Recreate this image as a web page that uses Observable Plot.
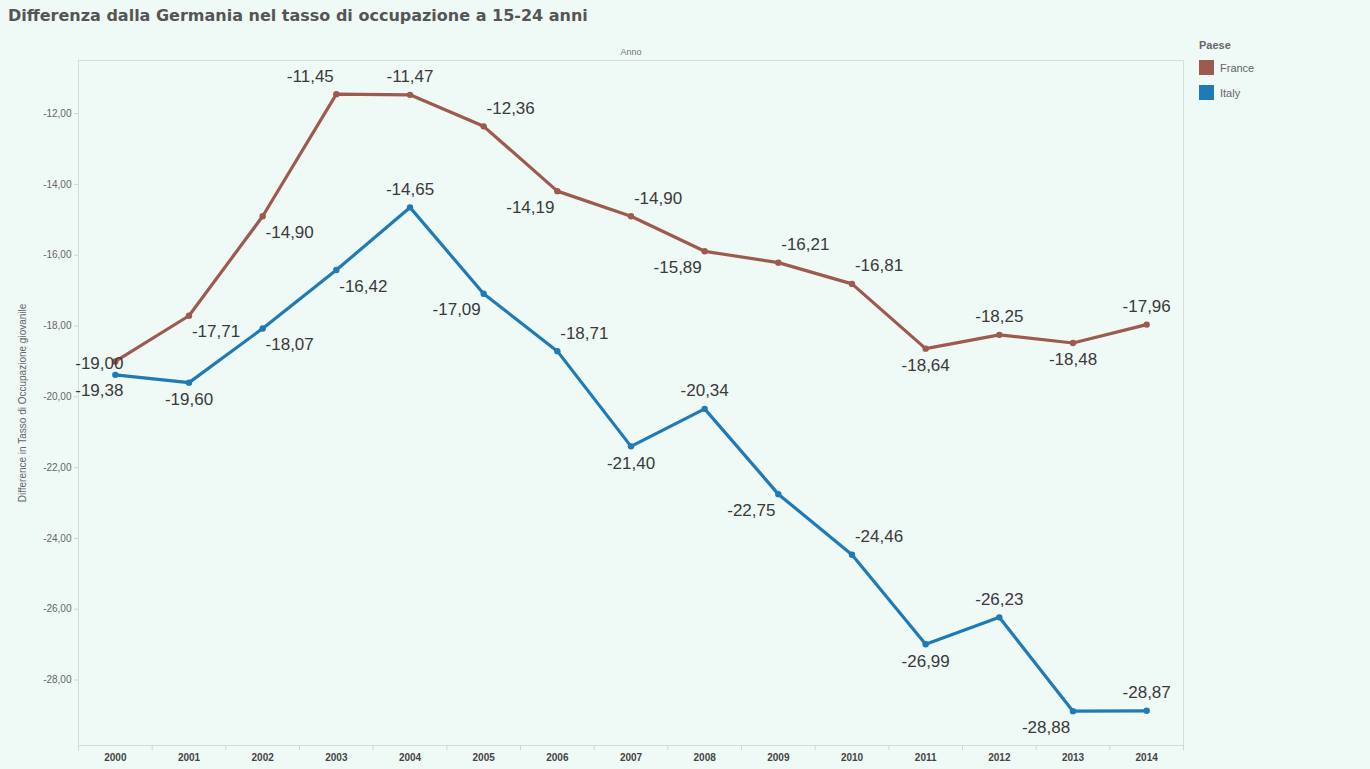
<!DOCTYPE html>
<html>
<head>
<meta charset="utf-8">
<script src="https://cdn.jsdelivr.net/npm/d3@7"></script>
<script src="https://cdn.jsdelivr.net/npm/@observablehq/plot@0.6"></script>
<style>
  html, body { margin: 0; padding: 0; background: #eff9f6; }
  #wrap { position: relative; width: 1370px; height: 769px; overflow: hidden; }
  #title { position: absolute; left: 8px; top: 6px; font: bold 16px "DejaVu Sans", sans-serif; color: #555; white-space: nowrap; }
  #chart { position: absolute; left: 0; top: 0; }
  #legend { position: absolute; left: 1199px; top: 39px; font: 11px "Liberation Sans", Arial, sans-serif; color: #666; }
  #legend .head { font-weight: bold; color: #666; margin-bottom: 4px; }
  #legend .row { display: flex; align-items: center; height: 25px; }
  #legend .sw { width: 15px; height: 15px; margin-right: 6px; }
</style>
</head>
<body>
<div id="wrap">
  <div id="chart"></div>
  <div id="title">Differenza dalla Germania nel tasso di occupazione a 15-24 anni</div>
  <div id="legend"></div>
</div>
<script>
// Years on the x axis
const years = [2000, 2001, 2002, 2003, 2004, 2005, 2006, 2007, 2008, 2009, 2010, 2011, 2012, 2013, 2014];
// Difference from Germany in the 15-24 employment rate (percentage points)
const france = [-19.00, -17.71, -14.90, -11.45, -11.47, -12.36, -14.19, -14.90, -15.89, -16.21, -16.81, -18.64, -18.25, -18.48, -17.96];
const italy  = [-19.38, -19.60, -18.07, -16.42, -14.65, -17.09, -18.71, -21.40, -20.34, -22.75, -24.46, -26.99, -26.23, -28.88, -28.87];
const countries = ["France", "Italy"];
const colors = ["#9d5a4e", "#1f7ab5"];
const yTicks = [-12, -14, -16, -18, -20, -22, -24, -26, -28];

// Where each value label sits around its point
const franceLabelPos = ["L", "SE", "SE", "NW", "N", "NE", "SW", "NE", "SW", "NE", "NE", "S", "N", "S", "N"];
const italyLabelPos  = ["LS", "S", "SE", "SE", "N", "SW", "NE", "S", "N", "SW", "NE", "S", "N", "SW", "N"];
const offsets = {
  N: [0, -18], S: [0, 17], NE: [27, -18], SE: [27, 16], NW: [-26, -18], SW: [-27, 16],
  L: [-16, 2], LS: [-16, 16]
};

const rows = [
  ...years.map((year, i) => ({year, value: france[i], country: "France", pos: franceLabelPos[i]})),
  ...years.map((year, i) => ({year, value: italy[i], country: "Italy", pos: italyLabelPos[i]}))
];

const fmt = v => v.toFixed(2).replace(".", ",");
const yDomain = [-29.85, -10.5];

const labelMarks = Object.entries(offsets).map(([code, [dx, dy]]) =>
  Plot.text(rows.filter(d => d.pos === code), {
    x: "year", y: "value", text: d => fmt(d.value), dx, dy,
    fontSize: 17, fill: "#3a3a3a", fontFamily: "Liberation Sans, Arial, sans-serif",
    textAnchor: "middle", lineAnchor: "middle"
  })
);

// Year boundaries, marked by short ticks under the frame
const boundaries = [years[0] - 0.5, ...years.map(y => y + 0.5)];

const chart = Plot.plot({
  width: 1370,
  height: 769,
  marginLeft: 78,
  marginRight: 187,
  marginTop: 60,
  marginBottom: 24,
  style: {background: "transparent", fontFamily: "Liberation Sans, Arial, sans-serif"},
  x: {domain: [years[0] - 0.5, years[years.length - 1] + 0.5]},
  y: {domain: yDomain},
  color: {domain: countries, range: colors},
  marks: [
    Plot.frame({stroke: "#d6dcda"}),
    Plot.axisX({
      ticks: years, tickFormat: d => String(d), tickSize: 0, tickPadding: 8,
      fontSize: 10, fontWeight: "bold", fill: "#444", label: null
    }),
    Plot.ruleX(boundaries, {x: d => d, y1: yDomain[0], y2: yDomain[0] - 0.15, stroke: "#cfd5d3", clip: false}),
    Plot.axisY({
      ticks: yTicks, tickFormat: fmt, tickSize: 4, tickPadding: 3, stroke: "#cfd5d3",
      fontSize: 10, fill: "#666",
      label: "Difference in Tasso di Occupazione giovanile", labelAnchor: "center",
      labelArrow: "none", labelOffset: 60
    }),
    Plot.text(["Anno"], {frameAnchor: "top", dy: -12, fontSize: 9, fill: "#777"}),
    Plot.line(rows, {x: "year", y: "value", stroke: "country", strokeWidth: 3.2, z: "country"}),
    Plot.dot(rows, {x: "year", y: "value", fill: "country", r: 3.2}),
    ...labelMarks
  ]
});

document.getElementById("chart").appendChild(chart);

// Legend
const legend = document.getElementById("legend");
legend.innerHTML = `<div class="head">Paese</div>` +
  countries.map((c, i) => `<div class="row"><div class="sw" style="background:${colors[i]}"></div>${c}</div>`).join("");
</script>
</body>
